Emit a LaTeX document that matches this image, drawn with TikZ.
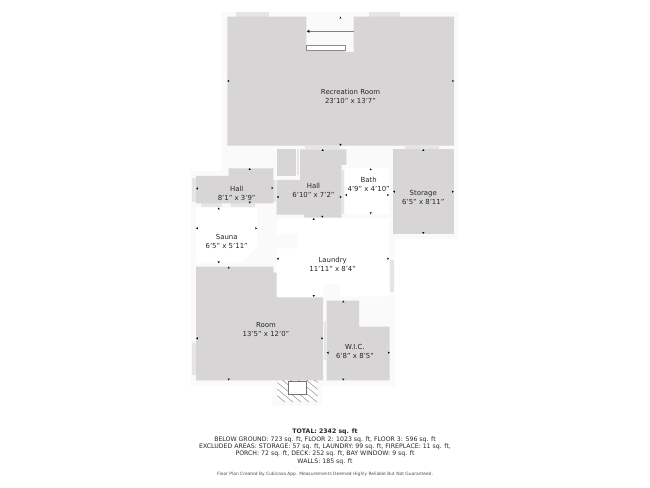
\documentclass[tikz,border=0pt]{standalone}
\usepackage{fontspec}
\setmainfont{DejaVu Sans}
\definecolor{roomgrey}{HTML}{D7D5D5}
\definecolor{halo}{HTML}{FAFAFA}
\definecolor{tabgrey}{HTML}{E6E5E5}
\definecolor{inkc}{HTML}{262626}
\tikzset{
  room/.style={fill=roomgrey,draw=none},
  whiteroom/.style={fill=white,draw=none},
  tabbox/.style={fill=tabgrey,draw=none},
  roomlabel/.style={text=inkc,font=\fontsize{5.2}{6.7}\selectfont,align=center,inner sep=0pt},
  footline/.style={text=inkc,font=\fontsize{4.65}{5.5}\selectfont,inner sep=0pt},
  tinyline/.style={text=inkc!80,font=\fontsize{3.3}{4}\selectfont,inner sep=0pt},
}
\newcommand{\tk}[3]{\fill[black,shift={(#1,#2)},rotate=#3] (-1.1,0.9)--(1.1,0.9)--(0,-0.9)--cycle;}
\begin{document}
\begin{tikzpicture}[x=0.75pt,y=-0.75pt]
\useasboundingbox (0,0) rectangle (650,488);
\fill[white] (0,0) rectangle (650,488);
% halo
\fill[halo] (222,12)--(458,12)--(458,239)--(394.5,239)--(394.5,386)--(322,386)--(322,405.7)--(272,405.7)--(272,386)--(191,386)--(191,171)--(222,171)--cycle;
% window tabs
\fill[tabbox] (235.5,12.5) rectangle (269,16.7);
\fill[tabbox] (369,12.5) rectangle (400,16.7);
\fill[tabbox] (305,145.7) rectangle (340,149.3);
\fill[tabbox] (405,145.7) rectangle (439,149.3);
\fill[tabbox] (191.7,177.7) rectangle (196,201.7);
\fill[tabbox] (273.3,180) rectangle (276,201.7);
\fill[tabbox] (201,203.3) rectangle (222,206.7);
\fill[tabbox] (230.7,203.3) rectangle (255,206.7);
\fill[tabbox] (297,149.3) rectangle (299,175);
\fill[tabbox] (342,170) rectangle (343.5,214);
\fill[tabbox] (390,260) rectangle (394,291.7);
\fill[tabbox] (191.7,343) rectangle (196,375);
\fill[tabbox] (323.7,321) rectangle (326.3,360);
% recreation room
\fill[room] (227.3,16.7)--(306.3,16.7)--(306.3,50)--(345,50)--(345,52)--(353.7,52)--(353.7,16.7)--(454,16.7)--(454,145.7)--(227.3,145.7)--cycle;
\fill[white] (306.3,45.3) rectangle (345,50);
\draw[gray!90,line width=0.35pt] (306.5,45.4) rectangle (344.8,49.8);
% stairs arrow
\draw[gray,line width=0.35pt] (353.5,31.3) -- (309,31.3);
\fill[black] (306.8,31.3)--(309.3,29.8)--(309.3,32.8)--cycle;
% halls, storage
\fill[room] (196,176)--(228.7,176)--(228.7,168.3)--(273.3,168.3)--(273.3,203.3)--(196,203.3)--cycle;
\fill[room] (276.7,149.3) rectangle (296,175.7);
\fill[room] (300,149.3)--(346.3,149.3)--(346.3,165)--(341.7,165)--(341.7,217.7)--(304.3,217.7)--(304.3,214.7)--(276.7,214.7)--(276.7,180)--(300,180)--cycle;
\fill[room] (393,149.3) rectangle (453.7,233.7);
% white rooms
\fill[whiteroom] (345,168.3) rectangle (389,214);
\fill[whiteroom] (196,207.7)--(257,207.7)--(257,246.7)--(240,263.3)--(196,263.3)--cycle;
\fill[whiteroom] (276.7,218.3)--(389,218.3)--(389,296.7)--(340,296.7)--(340,284)--(323.3,284)--(323.3,296.7)--(276.7,296.7)--(276.7,248.3)--(296.7,248.3)--(296.7,234)--(276.7,234)--cycle;
% room, wic
\fill[room] (196,266.7)--(273.3,266.7)--(273.3,272.7)--(276.7,272.7)--(276.7,297.3)--(323,297.3)--(323,380.3)--(196,380.3)--cycle;
\fill[room] (326.7,300.7)--(359,300.7)--(359,326.7)--(389.7,326.7)--(389.7,380.3)--(326.7,380.3)--cycle;
% fireplace
\begin{scope}
\clip (277.3,380.6) rectangle (317.7,401);
\fill[white] (277.3,380.6) rectangle (317.7,401);
\foreach \o in {-22,-14,...,50} {
  \draw[gray,line width=0.3pt] (270+\o,378)--(300+\o,403);
}
\end{scope}
\fill[white] (288.7,381) rectangle (306.3,394.3);
\draw[gray!90!black,line width=0.4pt] (288.7,381) rectangle (306.3,394.3);
% ticks
\tk{340.5}{17.6}{0}\tk{228.2}{81}{90}\tk{453.2}{81}{270}\tk{340.5}{144.9}{180}
\tk{249.7}{169}{0}\tk{197}{188.5}{90}\tk{272.5}{188}{270}\tk{249.7}{202.6}{180}
\tk{322.7}{150}{0}\tk{277.6}{197}{90}\tk{340.8}{197}{270}\tk{322.3}{216.8}{180}
\tk{370.7}{169.2}{0}\tk{346}{195}{90}\tk{388.2}{195}{270}\tk{370.7}{213.2}{180}
\tk{423.3}{150}{0}\tk{394}{191.7}{90}\tk{452.9}{191.7}{270}\tk{423.3}{233}{180}
\tk{218.7}{208.4}{0}\tk{197}{228.3}{90}\tk{256.2}{228.3}{270}\tk{218.7}{262.4}{180}
\tk{228.7}{267.5}{0}\tk{197}{338.3}{90}\tk{322.2}{338.3}{270}\tk{228.7}{379.5}{180}
\tk{313.7}{219}{0}\tk{277.6}{258.7}{90}\tk{388.2}{258.7}{270}\tk{313.7}{296}{180}
\tk{343.3}{301.5}{0}\tk{327.6}{352.7}{90}\tk{388.9}{352.7}{270}\tk{343.3}{379.5}{180}
% labels
\node[roomlabel] (recr) at (350.5,96.8) {Recreation Room\\23'10" x 13'7"};
\node[roomlabel] (hallone) at (236.7,193.2) {Hall\\8'1" x 3'9"};
\node[roomlabel] (halltwo) at (313.5,190.5) {Hall\\6'10" x 7'2"};
\node[roomlabel] (bath) at (368.7,184.8) {Bath\\4'9" x 4'10"};
\node[roomlabel] (storage) at (423.3,197.5) {Storage\\6'5" x 8'11"};
\node[roomlabel] (sauna) at (226.7,241.3) {Sauna\\6'5" x 5'11"};
\node[roomlabel] (laundry) at (332.7,264.5) {Laundry\\11'11" x 8'4"};
\node[roomlabel] (roomlab) at (266,329.7) {Room\\13'5" x 12'0"};
\node[roomlabel] (wic) at (355,351.2) {W.I.C.\\6'8" x 8'5"};
% footer
\node[footline,font=\fontsize{4.65}{5.5}\selectfont\bfseries] (ft) at (325,432.2) {TOTAL: 2342 sq. ft};
\node[footline] (fa) at (325,439.7) {BELOW GROUND: 723 sq. ft, FLOOR 2: 1023 sq. ft, FLOOR 3: 596 sq. ft};
\node[footline] (fb) at (325,447) {EXCLUDED AREAS: STORAGE: 57 sq. ft, LAUNDRY: 99 sq. ft, FIREPLACE: 11 sq. ft,};
\node[footline] (fc) at (325,454.2) {PORCH: 72 sq. ft, DECK: 252 sq. ft, BAY WINDOW: 9 sq. ft};
\node[footline] (fd) at (325,461.4) {WALLS: 185 sq. ft};
\node[tinyline] (fe) at (325,474) {Floor Plan Created By Cubicasa App. Measurements Deemed Highly Reliable But Not Guaranteed.};
\end{tikzpicture}
\end{document}
